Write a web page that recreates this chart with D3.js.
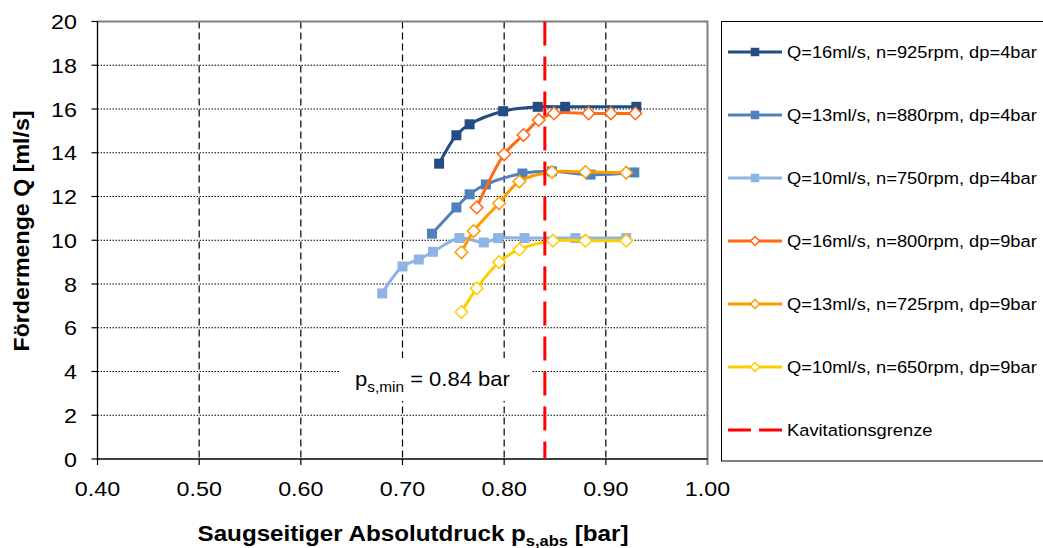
<!DOCTYPE html>
<html><head><meta charset="utf-8">
<script src="https://cdn.jsdelivr.net/npm/d3@7"></script>
<style>body{margin:0;background:#fff}svg{display:block}text{font-family:"Liberation Sans",Arial,sans-serif;fill:#000}</style>
</head><body><svg id="c" width="1043" height="548"></svg>
<script>
const xTicks = [0.4,0.5,0.6,0.7,0.8,0.9,1.0];
const yTicks = [0,2,4,6,8,10,12,14,16,18,20];
const seriesNames = [
  "Q=16ml/s, n=925rpm, dp=4bar","Q=13ml/s, n=880rpm, dp=4bar","Q=10ml/s, n=750rpm, dp=4bar",
  "Q=16ml/s, n=800rpm, dp=9bar","Q=13ml/s, n=725rpm, dp=9bar","Q=10ml/s, n=650rpm, dp=9bar"];
const limitName = "Kavitationsgrenze";
const s1x = [0.736,0.753,0.766,0.799,0.833,0.860,0.930];
const s1y = [13.5,14.8,15.3,15.9,16.1,16.1,16.1];
const s2x = [0.729,0.753,0.766,0.782,0.818,0.847,0.885,0.928];
const s2y = [10.3,11.5,12.1,12.55,13.05,13.15,13.0,13.1];
const s3x = [0.680,0.700,0.716,0.730,0.756,0.780,0.794,0.820,0.870,0.920];
const s3y = [7.57,8.8,9.12,9.47,10.1,9.9,10.1,10.1,10.1,10.1];
const s4x = [0.773,0.800,0.819,0.834,0.849,0.883,0.905,0.929];
const s4y = [11.5,13.93,14.81,15.5,15.8,15.8,15.8,15.8];
const s5x = [0.758,0.770,0.795,0.815,0.847,0.880,0.920];
const s5y = [9.45,10.42,11.69,12.69,13.12,13.12,13.09];
const s6x = [0.758,0.773,0.795,0.815,0.848,0.880,0.920];
const s6y = [6.72,7.8,9.0,9.58,9.98,9.98,9.98];
const pLimit = 0.84;
const colors = ["#234C82","#4F81BD","#8DB4E2","#FF6A13","#FF9A00","#FFCC00"];
const markers = ["square","square","square","diamond","diamond","diamond"];
const limitColor = "#FF0000";

const svg = d3.select("#c");
const L=97.5,R=707.5,T=21.5,B=459;
const x = d3.scaleLinear().domain([0.4,1.0]).range([L,R]);
const y = d3.scaleLinear().domain([0,20]).range([B,T]);
const SX = 1.11;

function txt(g, s, px, py, size, anchor, opts={}) {
  const t = g.append("text").attr("font-size",size).attr("text-anchor",anchor)
    .attr("transform",`translate(${px},${py}) rotate(${opts.rot||0}) scale(${opts.sx||SX},1)`);
  if (opts.bold) t.attr("font-weight","bold");
  t.text(s);
  return t;
}

// grid
const grid = svg.append("g");
grid.selectAll("line.h").data(yTicks.filter(v=>v>0&&v<20)).join("line")
  .attr("x1",L).attr("x2",R).attr("y1",d=>y(d)).attr("y2",d=>y(d))
  .attr("stroke","#000").attr("stroke-width",1).attr("stroke-dasharray","1.5,1.5");
grid.selectAll("line.v").data(xTicks.filter(v=>v>0.45&&v<0.95)).join("line")
  .attr("x1",d=>x(d)).attr("x2",d=>x(d)).attr("y1",T).attr("y2",B)
  .attr("stroke","#000").attr("stroke-width",1.2).attr("stroke-dasharray","7,4");

// border top/right
svg.append("path").attr("d",`M${L},${T}H${R}V${B+6}`).attr("fill","none").attr("stroke","#808080").attr("stroke-width",2);

// annotation box
const ann = svg.append("g");
ann.append("rect").attr("x",340).attr("y",358).attr("width",192).attr("height",43).attr("fill","#fff");
const at = ann.append("text").attr("font-size",20).attr("transform","translate(355,386) scale(1.1,1)");
at.append("tspan").text("p");
at.append("tspan").attr("font-size",14).attr("dy",6).text("s,min");
at.append("tspan").attr("dy",-6).text(" = 0.84 bar");

// axes
const ax = svg.append("g");
ax.append("line").attr("x1",L).attr("x2",L).attr("y1",T).attr("y2",B).attr("stroke","#000").attr("stroke-width",1.3);
ax.append("line").attr("x1",L).attr("x2",R).attr("y1",B).attr("y2",B).attr("stroke","#000").attr("stroke-width",1.3);
ax.selectAll("line.yt").data(yTicks).join("line").attr("x1",L-6).attr("x2",L).attr("y1",d=>y(d)).attr("y2",d=>y(d)).attr("stroke","#000").attr("stroke-width",1.2);
ax.selectAll("line.xt").data(xTicks.slice(0,-1)).join("line").attr("x1",d=>x(d)).attr("x2",d=>x(d)).attr("y1",B).attr("y2",B+6).attr("stroke","#000").attr("stroke-width",1.2);
yTicks.forEach(v=>txt(ax, String(v), 77, y(v)+7.5, 21, "end"));
xTicks.forEach(v=>txt(ax, d3.format(".2f")(v), x(v), 496, 21, "middle"));

// axis titles
svg.append("text").attr("font-size",21.5).attr("font-weight","bold").attr("text-anchor","middle")
  .attr("transform","translate(29,231) rotate(-90) scale(1.08,1)").text("Fördermenge Q [ml/s]");
const xt = svg.append("text").attr("font-size",22).attr("font-weight","bold").attr("text-anchor","middle")
  .attr("transform","translate(413,541) scale(1.1,1)");
xt.append("tspan").text("Saugseitiger Absolutdruck p");
xt.append("tspan").attr("font-size",15).attr("dy",5).text("s,abs");
xt.append("tspan").attr("dy",-5).text(" [bar]");

// series
const xs=[s1x,s2x,s3x,s4x,s5x,s6x], ys=[s1y,s2y,s3y,s4y,s5y,s6y];
const line = d3.line().x(d=>x(d[0])).y(d=>y(d[1])).curve(d3.curveCatmullRom.alpha(0.5));
function marker(g, kind, color, cx, cy, big) {
  if (kind==="square") {
    const s = big?10:8.5;
    g.append("rect").attr("x",cx-s/2).attr("y",cy-s/2).attr("width",s).attr("height",s).attr("fill",color);
  } else {
    const r = big?6.3:4.5;
    g.append("path").attr("d",`M${cx},${cy-r}L${cx+r},${cy}L${cx},${cy+r}L${cx-r},${cy}Z`)
      .attr("fill","#fff").attr("stroke",color).attr("stroke-width",1.5);
  }
}
const sg = svg.append("g");
xs.forEach((xa,i)=>{
  const pts = xa.map((v,j)=>[v,ys[i][j]]);
  const g = sg.append("g");
  g.append("path").attr("d",line(pts)).attr("fill","none").attr("stroke",colors[i]).attr("stroke-width",3);
  pts.forEach(p=>marker(g, markers[i], colors[i], x(p[0]), y(p[1]), true));
});

// limit line
svg.append("line").attr("x1",x(pLimit)).attr("x2",x(pLimit)).attr("y1",T).attr("y2",B)
  .attr("stroke",limitColor).attr("stroke-width",3).attr("stroke-dasharray","24,11");

// legend
const lg = svg.append("g");
lg.append("rect").attr("x",721.5).attr("y",21.5).attr("width",340).attr("height",439.5).attr("fill","#fff").attr("stroke","#000").attr("stroke-width",1);
const ly = [52,115,178,241,304,367,430];
seriesNames.forEach((n,i)=>{
  lg.append("line").attr("x1",728).attr("x2",782).attr("y1",ly[i]).attr("y2",ly[i]).attr("stroke",colors[i]).attr("stroke-width",3);
  marker(lg, markers[i], colors[i], 755, ly[i], false);
  txt(lg, n, 787, ly[i]+6, 16.5, "start");
});
lg.append("line").attr("x1",728).attr("x2",782).attr("y1",ly[6]).attr("y2",ly[6]).attr("stroke",limitColor).attr("stroke-width",3).attr("stroke-dasharray","23,8");
txt(lg, limitName, 787, ly[6]+6, 16.5, "start");
</script></body></html>
